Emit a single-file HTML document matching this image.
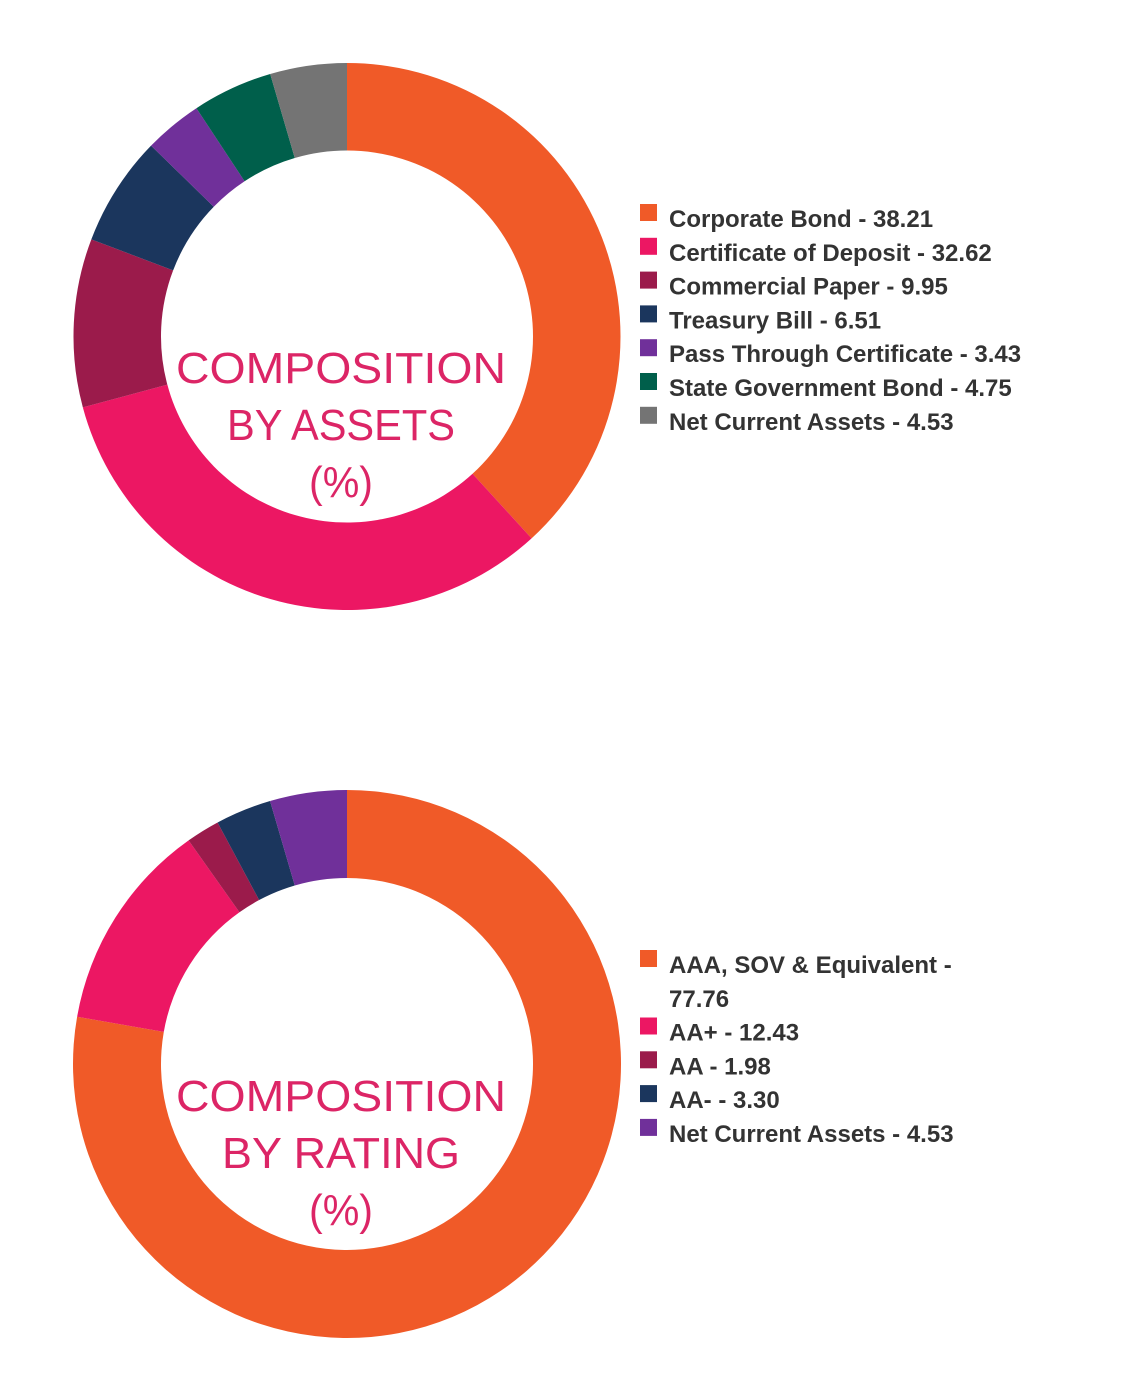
<!DOCTYPE html>
<html><head><meta charset="utf-8"><style>
body{margin:0;background:#fff;}
svg{display:block;}
</style></head><body>
<svg id="chart" width="1122" height="1399" viewBox="0 0 1122 1399" xmlns="http://www.w3.org/2000/svg" font-family="'Liberation Sans', sans-serif"></svg>
<script>
const assetLabels = ["Corporate Bond","Certificate of Deposit","Commercial Paper","Treasury Bill","Pass Through Certificate","State Government Bond","Net Current Assets"];
const assetValues = [38.21,32.62,9.95,6.51,3.43,4.75,4.53];
const assetValueText = ["38.21","32.62","9.95","6.51","3.43","4.75","4.53"];
const assetColors = ["#F05A28","#EC1763","#9B1B4B","#1B365D","#70309A","#005F4B","#747474"];
const ratingLabels = ["AAA, SOV & Equivalent","AA+","AA","AA-","Net Current Assets"];
const ratingValues = [77.76,12.43,1.98,3.30,4.53];
const ratingValueText = ["77.76","12.43","1.98","3.30","4.53"];
const ratingColors = ["#F05A28","#EC1763","#9B1B4B","#1B365D","#70309A"];

const NS="http://www.w3.org/2000/svg";
const svg=document.getElementById('chart');
function mk(t,a){const e=document.createElementNS(NS,t);for(const k in a)e.setAttribute(k,a[k]);return e;}

function donut(cx,cy,R,r,values,colors,name){
  const total=values.reduce((a,b)=>a+b,0);
  let acc=0;
  const g=mk('g',{});
  
  
  svg.appendChild(g);
  values.forEach((v,i)=>{
    const a0=acc/total*2*Math.PI; acc+=v; const a1=acc/total*2*Math.PI;
    const p=(a,rad)=>[cx+rad*Math.sin(a),cy-rad*Math.cos(a)];
    const [x0,y0]=p(a0,R),[x1,y1]=p(a1,R),[x2,y2]=p(a1,r),[x3,y3]=p(a0,r);
    const lg=(a1-a0)>Math.PI?1:0;
    const path=mk('path',{d:`M${x0},${y0}A${R},${R} 0 ${lg} 1 ${x1},${y1}L${x2},${y2}A${r},${r} 0 ${lg} 0 ${x3},${y3}Z`,fill:colors[i]});
    
    
    g.appendChild(path);
  });
}
function center(cx,lines,ys,lens,name){
  lines.forEach((t,i)=>{
    const e=mk('text',{x:cx,y:ys[i],'text-anchor':'middle','font-size':44,fill:'#DC2566',textLength:lens[i],lengthAdjust:'spacingAndGlyphs'});
    e.textContent=t;
    
    
    svg.appendChild(e);
  });
}
function legend(x,rows,colors,name){
  rows.forEach((row,i)=>{
    const rr=mk('rect',{x:x,y:row.y-15,width:17,height:17,fill:colors[i]});
    
    
    svg.appendChild(rr);
    row.lines.forEach((ln,j)=>{
      const t=mk('text',{x:x+29,y:row.y+8+j*34,'font-size':24,'font-weight':'bold',fill:'#333'});
      t.textContent=ln;
      
      
      svg.appendChild(t);
    });
  });
}

donut(347,336.5,273.5,186,assetValues,assetColors,'assets');
center(341,["COMPOSITION","BY ASSETS","(%)"],[383,440,497],[330,228,64],'assets');
legend(640,assetLabels.map((l,i)=>({y:219+i*33.8,lines:[l+" - "+assetValueText[i]]})),assetColors,'assets');

donut(347,1064,274,186,ratingValues,ratingColors,'rating');
center(341,["COMPOSITION","BY RATING","(%)"],[1111,1168,1225],[330,238,64],'rating');
const ratingRows=[];let yy=965;
ratingLabels.forEach((l,i)=>{
  if(i===0){ratingRows.push({y:yy,lines:[l+" -",ratingValueText[i]]});yy+=67.5;}
  else{ratingRows.push({y:yy,lines:[l+" - "+ratingValueText[i]]});yy+=33.8;}
});
legend(640,ratingRows,ratingColors,'rating');
</script>
</body></html>
